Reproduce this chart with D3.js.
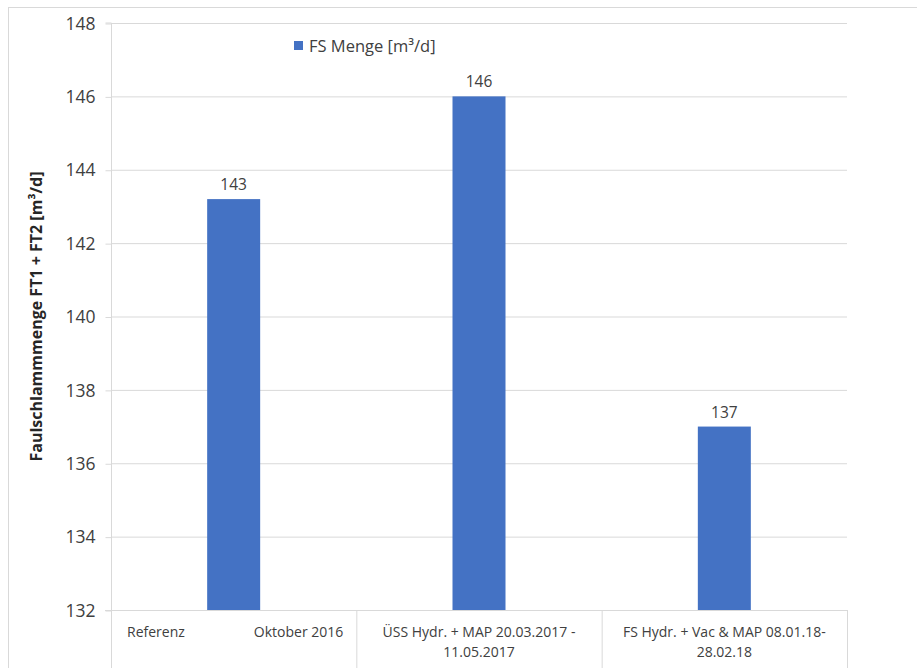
<!DOCTYPE html>
<html><head><meta charset="utf-8">
<script src="https://cdn.jsdelivr.net/npm/d3@7"></script>
<style>body{margin:0;background:#fff}svg{display:block}text{font-family:"Open Sans",Lato,sans-serif}</style>
</head><body>
<svg id="c" width="917" height="668"></svg>
<script>
const categories = ["Referenz|Oktober 2016", "ÜSS Hydr. + MAP 20.03.2017 -|11.05.2017", "FS Hydr. + Vac & MAP 08.01.18-|28.02.18"];
const values = [143.2, 146.0, 137.0];
const valueLabels = ["143", "146", "137"];
const yTicks = [132, 134, 136, 138, 140, 142, 144, 146, 148];
const seriesName = "FS Menge [m³/d]";
const yTitle = "Faulschlammmenge FT1 + FT2 [m³/d]";

const F = '"Open Sans",Lato,sans-serif';
const svg = d3.select("#c");
const m = {l:111, r:847, t:23, b:610};
const x = d3.scaleBand().domain(categories).range([m.l, m.r]).paddingInner(0).paddingOuter(0);
const y = d3.scaleLinear().domain([132,148]).range([m.b, m.t]);
const barW = 53;

svg.append("rect").attr("x",8.5).attr("y",7.5).attr("width",1000).attr("height",1000)
  .attr("fill","#fff").attr("stroke","#d9d9d9");

// gridlines
svg.append("g").selectAll("line").data(yTicks).join("line")
  .attr("x1", m.l).attr("x2", m.r).attr("y1", d=>y(d)+0.5).attr("y2", d=>y(d)+0.5)
  .attr("stroke","#d9d9d9").attr("stroke-width",1);

// y axis
const ya = svg.append("g").attr("transform",`translate(${m.l+0.5},0)`)
  .call(d3.axisLeft(y).tickValues(yTicks).tickSize(6).tickPadding(10).tickFormat(d3.format("d")));
ya.select(".domain").attr("stroke","#d9d9d9").attr("d",`M-6,${m.t}H0V668`);
ya.selectAll(".tick line").attr("stroke","#d9d9d9").attr("transform","translate(0,0.5)");
ya.selectAll(".tick text").attr("font-size",17.5).attr("fill","#404040").attr("font-family",F).attr("dy","0.35em").attr("x",-16);

// category boxes
svg.append("line").attr("x1",105).attr("x2",m.r).attr("y1",m.b+0.5).attr("y2",m.b+0.5).attr("stroke","#d9d9d9");
svg.append("g").selectAll("line").data(categories).join("line")
  .attr("x1", d=>x(d)+x.bandwidth()+0.5).attr("x2", d=>x(d)+x.bandwidth()+0.5)
  .attr("y1", m.b).attr("y2", 668).attr("stroke","#d9d9d9");

// bars
svg.append("g").selectAll("rect").data(values).join("rect")
  .attr("x",(d,i)=>x(categories[i])+x.bandwidth()/2-barW/2)
  .attr("width",barW)
  .attr("y",d=>y(d)).attr("height",d=>y(132)-y(d))
  .attr("fill","#4472C4");

// value labels
svg.append("g").selectAll("text").data(values).join("text")
  .attr("x",(d,i)=>x(categories[i])+x.bandwidth()/2)
  .attr("y",d=>y(d)-9)
  .attr("text-anchor","middle").attr("font-size",15.5).attr("fill","#404040")
  .text((d,i)=>valueLabels[i]);

// category labels
categories.forEach((c,i)=>{
  const parts = c.split("|");
  const x0 = x(c), cx = x0 + x.bandwidth()/2;
  if(i===0){
    svg.append("text").attr("x",x0+16).attr("y",637).attr("font-size",14).attr("fill","#404040").text(parts[0]);
    svg.append("text").attr("x",x0+x.bandwidth()-13).attr("y",637).attr("text-anchor","end").attr("font-size",14).attr("fill","#404040").text(parts[1]);
  } else {
    svg.append("text").attr("x",cx).attr("y",637).attr("text-anchor","middle").attr("font-size",14).attr("fill","#404040").text(parts[0]);
    svg.append("text").attr("x",cx).attr("y",657).attr("text-anchor","middle").attr("font-size",14).attr("fill","#404040").text(parts[1]);
  }
});

// y title
svg.append("text").attr("transform",`translate(42,${(m.t+m.b)/2}) rotate(-90)`)
  .attr("text-anchor","middle").attr("font-size",16).attr("font-weight","bold").attr("fill","#262626")
  .text(yTitle);

// legend
svg.append("rect").attr("x",294).attr("y",41).attr("width",9).attr("height",9).attr("fill","#4472C4");
svg.append("text").attr("x",309).attr("y",52).attr("font-size",16.5).attr("fill","#404040").text(seriesName);
</script>
</body></html>
